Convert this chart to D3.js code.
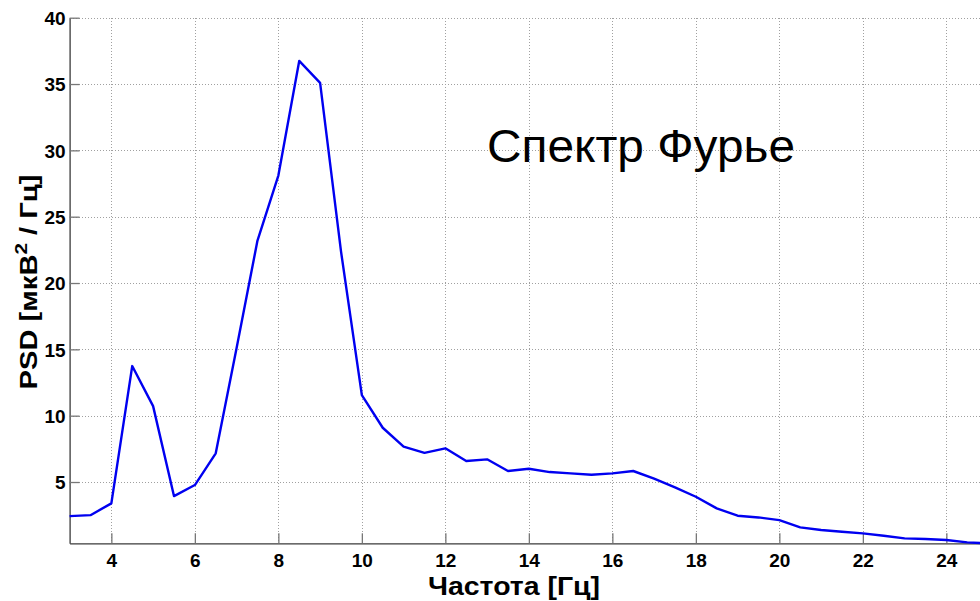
<!DOCTYPE html>
<html>
<head>
<meta charset="utf-8">
<script src="https://cdn.jsdelivr.net/npm/d3@7"></script>
<style>
  html, body { margin: 0; padding: 0; background: #fff; }
  svg { display: block; font-family: "Liberation Sans", Arial, Helvetica, sans-serif; }
</style>
</head>
<body>
<svg id="chart" width="980" height="601"></svg>
<script>
// Frequency bins (Hz) and power spectral density (µV²/Hz)
const freq = [3, 3.5, 4, 4.5, 5, 5.5, 6, 6.5, 7, 7.5, 8, 8.5, 9, 9.5, 10, 10.5, 11, 11.5,
  12, 12.5, 13, 13.5, 14, 14.5, 15, 15.5, 16, 16.5, 17, 17.5, 18, 18.5, 19, 19.5, 20,
  20.5, 21, 21.5, 22, 22.5, 23, 23.5, 24, 24.5, 25];
const psd = [2.43, 2.50, 3.39, 13.74, 10.72, 3.94, 4.77, 7.16, 15.1, 23.2, 28.1, 36.74,
  35.09, 22.4, 11.55, 9.09, 7.66, 7.2, 7.54, 6.58, 6.71, 5.83, 6.0, 5.75, 5.65, 5.55,
  5.65, 5.83, 5.25, 4.6, 3.89, 3.01, 2.46, 2.33, 2.13, 1.58, 1.38, 1.25, 1.13, 0.95,
  0.75, 0.70, 0.63, 0.45, 0.38];
const xTicks = [4, 6, 8, 10, 12, 14, 16, 18, 20, 22, 24];
const yTicks = [5, 10, 15, 20, 25, 30, 35, 40];

const xLabel = "Частота [Гц]";
const yLabelMain = "PSD [мкВ";
const yLabelSup = "2";
const yLabelTail = " / Гц]";
const title = "Спектр Фурье";

const svg = d3.select("#chart");

const plotLeft = 69.6, plotRight = 988.1, plotTop = 17.7, plotBottom = 543.3;

const x = d3.scaleLinear().domain([3, 25]).range([plotLeft, plotRight]);
const y = d3.scaleLinear().domain([d3.min(psd), 40]).range([plotBottom, plotTop]);

// dotted grid
const grid = svg.append("g").attr("stroke", "#a0a0a0").attr("stroke-width", 1)
  .attr("stroke-dasharray", "1,2").attr("shape-rendering", "crispEdges");
grid.selectAll("line.v").data(xTicks).join("line").attr("class", "v")
  .attr("x1", d => Math.round(x(d)) + 0.5).attr("x2", d => Math.round(x(d)) + 0.5)
  .attr("y1", plotTop).attr("y2", plotBottom);
grid.selectAll("line.h").data(yTicks).join("line").attr("class", "h")
  .attr("y1", d => Math.round(y(d)) + 0.5).attr("y2", d => Math.round(y(d)) + 0.5)
  .attr("x1", plotLeft).attr("x2", 980);

// axes with inward ticks
const xAxis = svg.append("g").attr("transform", `translate(0,${plotBottom})`)
  .call(d3.axisBottom(x).tickValues(xTicks).tickSize(-10).tickSizeOuter(0));
const yAxis = svg.append("g").attr("transform", `translate(${plotLeft},0)`)
  .call(d3.axisLeft(y).tickValues(yTicks).tickSize(-10).tickSizeOuter(0));

[xAxis, yAxis].forEach(g => {
  g.select(".domain").attr("stroke", "#3a3a3a").attr("stroke-width", 1.3);
  g.selectAll(".tick line").attr("stroke", "#777").attr("stroke-width", 1.3);
  g.selectAll(".tick text").attr("fill", "#000").attr("font-size", 19)
    .attr("font-weight", "bold")
    .attr("font-family", '"Liberation Sans", Arial, sans-serif');
});
xAxis.selectAll(".tick text").attr("dy", "0.71em").attr("y", 10);
yAxis.selectAll(".tick text").attr("x", -4).attr("dy", "0.35em");

// spectrum line
const line = d3.line().x((d, i) => x(freq[i])).y(d => y(d));
svg.append("path").datum(psd)
  .attr("fill", "none").attr("stroke", "#0000f0").attr("stroke-width", 2.4)
  .attr("stroke-linejoin", "round")
  .attr("d", line);

// axis titles
svg.append("text")
  .attr("x", 514).attr("y", 595)
  .attr("text-anchor", "middle").attr("font-size", 26).attr("font-weight", "bold")
  .attr("textLength", 172).attr("lengthAdjust", "spacingAndGlyphs")
  .text(xLabel);

const yl = svg.append("text")
  .attr("transform", "translate(37,282) rotate(-90)")
  .attr("text-anchor", "middle").attr("font-size", 24).attr("font-weight", "bold")
  .attr("textLength", 215).attr("lengthAdjust", "spacingAndGlyphs");
yl.append("tspan").text(yLabelMain);
yl.append("tspan").attr("font-size", 17).attr("dy", -10).text(yLabelSup);
yl.append("tspan").attr("dy", 10).text(yLabelTail);

// annotation
svg.append("text")
  .attr("x", 487).attr("y", 162)
  .attr("font-size", 47)
  .attr("textLength", 308).attr("lengthAdjust", "spacingAndGlyphs")
  .text(title);
</script>
</body>
</html>
